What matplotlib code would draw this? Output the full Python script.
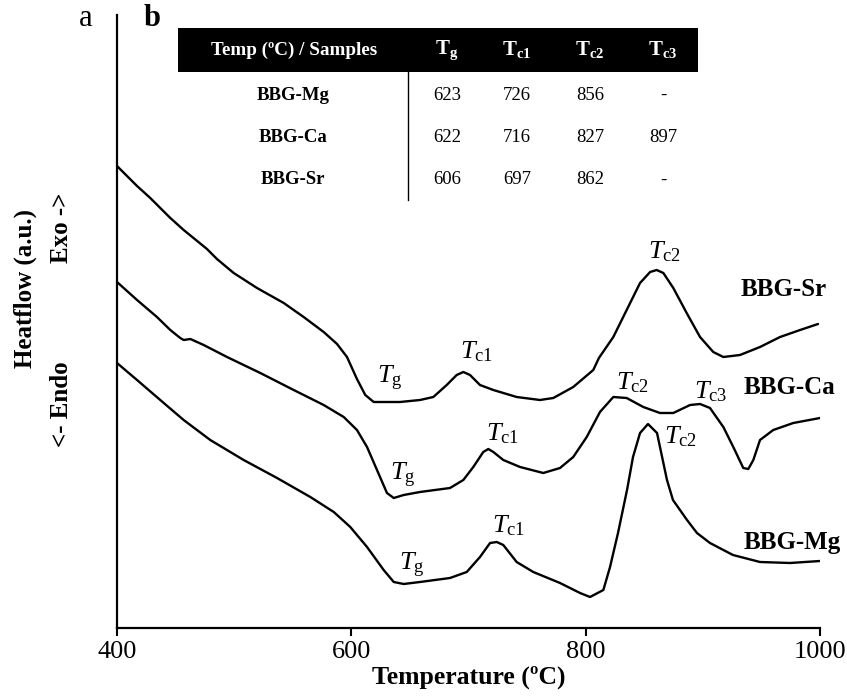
import matplotlib
matplotlib.use('Agg')
import matplotlib.pyplot as plt
from matplotlib.patches import Rectangle

plt.rcParams['font.family'] = ['Liberation Serif', 'DejaVu Serif']
plt.rcParams['mathtext.fontset'] = 'custom'
plt.rcParams['mathtext.rm'] = 'Liberation Serif'
plt.rcParams['mathtext.it'] = 'Liberation Serif:italic'
plt.rcParams['mathtext.bf'] = 'Liberation Serif:bold'

# DSC curves (temperature in C, heat flow in a.u.)
T_sr = [400.0, 417.1, 428.4, 445.5, 456.9, 476.8, 485.3, 499.6, 519.5, 542.3, 559.3, 576.4, 587.8,
        596.3, 604.8, 611.9, 619.1, 633.3, 641.5, 658.6, 670.0, 681.4, 689.9, 695.6, 701.3, 709.8,
        721.2, 741.1, 761.0, 772.4, 789.4, 806.5, 811.3, 823.6, 835.0, 846.4, 855.0, 860.6, 866.3,
        874.8, 886.2, 897.6, 908.9, 917.5, 931.7, 948.8, 965.9, 983.0, 998.3]
H_sr = [4.62, 4.42, 4.30, 4.10, 3.98, 3.79, 3.69, 3.55, 3.40, 3.25, 3.11, 2.96, 2.84,
        2.71, 2.49, 2.33, 2.26, 2.26, 2.26, 2.28, 2.31, 2.43, 2.53, 2.56, 2.53, 2.43,
        2.38, 2.31, 2.28, 2.30, 2.41, 2.58, 2.70, 2.91, 3.18, 3.45, 3.56, 3.58, 3.55,
        3.40, 3.15, 2.91, 2.76, 2.71, 2.73, 2.81, 2.91, 2.98, 3.04]

T_ca = [400.0, 417.1, 434.1, 445.5, 454.0, 456.9, 462.6, 474.0, 493.9, 522.3, 550.8, 576.4, 593.5,
        604.8, 613.4, 621.9, 630.4, 636.2, 644.7, 658.6, 684.2, 695.6, 704.1, 712.6, 716.9, 721.2,
        729.7, 744.0, 763.8, 778.1, 789.4, 800.9, 812.2, 823.6, 835.0, 849.2, 863.4, 874.8, 889.1,
        897.6, 906.1, 917.5, 926.0, 934.5, 938.8, 943.1, 948.8, 960.1, 977.2, 1000.0]
H_ca = [3.46, 3.28, 3.11, 2.98, 2.90, 2.88, 2.89, 2.83, 2.71, 2.55, 2.38, 2.23, 2.11,
        1.98, 1.81, 1.58, 1.35, 1.30, 1.33, 1.36, 1.40, 1.48, 1.61, 1.76, 1.79, 1.76,
        1.68, 1.61, 1.55, 1.60, 1.71, 1.91, 2.16, 2.31, 2.30, 2.21, 2.15, 2.15, 2.23,
        2.24, 2.20, 2.01, 1.81, 1.60, 1.59, 1.68, 1.88, 1.98, 2.05, 2.10]

T_mg = [400.0, 417.1, 439.9, 456.9, 479.6, 508.1, 536.6, 565.0, 585.0, 599.1, 613.4, 627.6, 636.2,
        644.7, 658.6, 684.2, 698.5, 709.8, 718.4, 724.1, 729.7, 741.1, 755.3, 778.1, 795.2, 803.7,
        815.1, 820.8, 827.6, 835.3, 840.4, 846.4, 853.2, 860.9, 869.4, 874.5, 886.5, 895.0, 906.1,
        925.7, 948.8, 974.4, 1000.0]
H_mg = [2.65, 2.48, 2.25, 2.08, 1.88, 1.68, 1.50, 1.31, 1.16, 1.01, 0.81, 0.58, 0.46,
        0.44, 0.46, 0.50, 0.56, 0.71, 0.85, 0.86, 0.83, 0.66, 0.56, 0.45, 0.35, 0.31,
        0.38, 0.61, 0.95, 1.38, 1.71, 1.95, 2.04, 1.95, 1.48, 1.28, 1.08, 0.95, 0.85,
        0.73, 0.66, 0.65, 0.67]

samples = ['BBG-Mg', 'BBG-Ca', 'BBG-Sr']
col_labels = [r'$\mathbf{T}_{\mathbf{g}}$', r'$\mathbf{T}_{\mathbf{c1}}$',
              r'$\mathbf{T}_{\mathbf{c2}}$', r'$\mathbf{T}_{\mathbf{c3}}$']
table_vals = [['623', '726', '856', '-'],
              ['622', '716', '827', '897'],
              ['606', '697', '862', '-']]

# peak labels: (text, T, heatflow)
peak_labels = [
    (r'$T_{\mathrm{g}}$', 633, 2.50), (r'$T_{\mathrm{c1}}$', 707, 2.76), (r'$T_{\mathrm{c2}}$', 867, 3.76),
    (r'$T_{\mathrm{g}}$', 644, 1.53), (r'$T_{\mathrm{c1}}$', 729, 1.94), (r'$T_{\mathrm{c2}}$', 840, 2.45),
    (r'$T_{\mathrm{c3}}$', 907, 2.36),
    (r'$T_{\mathrm{g}}$', 652, 0.63), (r'$T_{\mathrm{c1}}$', 734, 1.02), (r'$T_{\mathrm{c2}}$', 881, 1.91),
]
curve_names = [('BBG-Sr', 969, 3.38), ('BBG-Ca', 974, 2.40), ('BBG-Mg', 976, 0.86)]

W, H = 847, 700
fig = plt.figure(figsize=(W / 100, H / 100), dpi=100)
ax = fig.add_axes([117 / W, 1 - 628 / H, 703 / W, 613 / H])

for T, Hf in [(T_sr, H_sr), (T_ca, H_ca), (T_mg, H_mg)]:
    ax.plot(T, Hf, color='black', lw=1.7, solid_joinstyle='round', solid_capstyle='round')

ax.set_xlim(400, 1000)
ax.set_ylim(0, 6.13)
ax.spines['top'].set_visible(False)
ax.spines['right'].set_visible(False)
ax.spines['left'].set_linewidth(1.6)
ax.spines['bottom'].set_linewidth(1.6)
ax.set_yticks([])
ax.set_xticks([400, 600, 800, 1000])
ax.tick_params(axis='x', direction='out', length=6, width=1.5, labelsize=19, pad=3)
ax.set_xlabel('Temperature (ºC)', fontsize=18.5, fontweight='bold', labelpad=2)

for txt, t, h in peak_labels:
    ax.text(t, h, txt, fontsize=19, ha='center', va='center')
for name, t, h in curve_names:
    ax.text(t, h, name, fontsize=18, fontweight='bold', ha='center', va='center')

# overlay in pixel coordinates for table and side labels
ov = fig.add_axes([0, 0, 1, 1])
ov.set_xlim(0, W)
ov.set_ylim(H, 0)
ov.axis('off')
ov.patch.set_alpha(0)

ov.text(25, 288, 'Heatflow (a.u.)', rotation=90, fontsize=18, fontweight='bold', ha='center', va='center')
ov.text(62, 228, 'Exo ->', rotation=90, fontsize=18, fontweight='bold', ha='center', va='center')
ov.text(62, 404, '<- Endo', rotation=90, fontsize=18, fontweight='bold', ha='center', va='center')
ov.text(86, 19, 'a', fontsize=22, ha='center', va='center')
ov.text(152, 18, 'b', fontsize=22, fontweight='bold', ha='center', va='center')

ov.add_patch(Rectangle((178, 28), 520, 44, facecolor='black', edgecolor='none'))
ov.text(294, 50, 'Temp (ºC) / Samples', color='white', fontsize=13.8, fontweight='bold', ha='center', va='center')
col_x = [447, 517, 590, 663]
row_y = [95, 137, 180]
for cx, lab in zip(col_x, col_labels):
    ov.text(cx, 50, lab, color='white', fontsize=15, ha='center', va='center')
ov.plot([408, 408], [72, 200], color='black', lw=1.0)
for ry, s, vals in zip(row_y, samples, table_vals):
    ov.text(293, ry, s, fontsize=13.5, fontweight='bold', ha='center', va='center')
    for cx, v in zip(col_x, vals):
        ov.text(cx, ry, v, fontsize=13.5, ha='center', va='center')

fig.savefig('out.png', dpi=100)
